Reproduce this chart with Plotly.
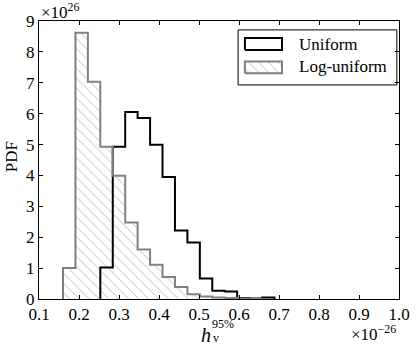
import plotly.graph_objects as go

# histogram values (PDF, in units of 1e26)
bin_width = 0.0311
log_start = 0.160
loguniform = [1.0, 8.62, 7.03, 4.93, 3.99, 2.48, 1.60, 1.11, 0.71, 0.39, 0.15, 0.08, 0.05, 0.03, 0.02, 0.01]
uni_start = 0.2533
uniform = [1.02, 4.93, 6.05, 5.86, 4.99, 3.95, 2.22, 1.83, 0.66, 0.27, 0.24, 0.03, 0.02, 0.05]

xticks = [0.1, 0.2, 0.3, 0.4, 0.5, 0.6, 0.7, 0.8, 0.9, 1.0]
yticks = [0, 1, 2, 3, 4, 5, 6, 7, 8, 9]

FONT = "Liberation Serif, serif"
GREY = "#808080"
HATCH = "#b4b4b4"


def step_xy(start, vals):
    edges = [start + i * bin_width for i in range(len(vals) + 1)]
    xs = [edges[0]] + edges[:-1] + [edges[-1]]
    ys = [0] + list(vals) + [0]
    return xs, ys


fig = go.Figure()

ux, uy = step_xy(uni_start, uniform)
fig.add_trace(go.Scatter(x=ux, y=uy, mode="lines", line=dict(color="black", width=2, shape="hv"),
                         hoverinfo="skip", showlegend=False))

centers = [log_start + (i + 0.5) * bin_width for i in range(len(loguniform))]
fig.add_trace(go.Bar(x=centers, y=loguniform, width=bin_width,
                     marker=dict(color="rgba(0,0,0,0)", line_width=0,
                                 pattern=dict(shape="\\", fgcolor=HATCH, bgcolor="rgba(0,0,0,0)",
                                              size=7, solidity=0.12, fillmode="replace")),
                     hoverinfo="skip", showlegend=False))

lx, ly = step_xy(log_start, loguniform)
fig.add_trace(go.Scatter(x=lx, y=ly, mode="lines", line=dict(color=GREY, width=2, shape="hv"),
                         hoverinfo="skip", showlegend=False))

# legend drawn by hand on an overlay axis spanning the plot area (0..1)
def rect(x0, x1, y0, y1):
    return [x0, x1, x1, x0, x0], [y0, y0, y1, y1, y0]

bx, by = rect(0.553, 0.994, 0.770, 0.968)
fig.add_trace(go.Scatter(x=bx, y=by, xaxis="x2", yaxis="y2", mode="lines", fill="toself",
                         fillcolor="white", line=dict(color="black", width=1),
                         hoverinfo="skip", showlegend=False))
kx, ky = rect(0.572, 0.675, 0.896, 0.939)
fig.add_trace(go.Scatter(x=kx, y=ky, xaxis="x2", yaxis="y2", mode="lines", fill="toself",
                         fillcolor="white", line=dict(color="black", width=2),
                         hoverinfo="skip", showlegend=False))
kx, ky = rect(0.572, 0.675, 0.812, 0.854)
fig.add_trace(go.Scatter(x=kx, y=ky, xaxis="x2", yaxis="y2", mode="lines", fill="toself",
                         fillpattern=dict(shape="\\", fgcolor=HATCH, bgcolor="white",
                                          size=7, solidity=0.12, fillmode="replace"),
                         line=dict(color=GREY, width=2),
                         hoverinfo="skip", showlegend=False))

annots = [
    dict(text="Uniform", x=0.717, y=0.917, xanchor="left", yanchor="middle", font_size=17),
    dict(text="Log-uniform", x=0.717, y=0.835, xanchor="left", yanchor="middle", font_size=17),
    dict(text="×10<sup>26</sup>", x=0.0, y=0.989, xanchor="left", yanchor="bottom", font_size=17),
    dict(text="×10<sup>−26</sup>", x=0.997, y=-0.075, xanchor="right", yanchor="top", font_size=17),
    dict(text="<i>h</i>", x=0.464, y=-0.129, xanchor="center", yanchor="middle", font_size=20),
    dict(text="95%", x=0.511, y=-0.09, xanchor="center", yanchor="middle", font_size=12),
    dict(text="v", x=0.4917, y=-0.142, xanchor="center", yanchor="middle", font_size=12),
    dict(text="PDF", x=-0.074, y=0.511, xanchor="center", yanchor="middle", font_size=17, textangle=-90),
]
for a in annots:
    fig.add_annotation(xref="paper", yref="paper", showarrow=False, font_family=FONT,
                       font_color="black", **a)

axis_common = dict(showline=True, linecolor="black", linewidth=1, mirror="ticks", ticks="inside",
                   ticklen=4, tickcolor="black", showgrid=False, zeroline=False, automargin=False,
                   tickfont=dict(family=FONT, size=17, color="black"))

fig.update_layout(
    width=416, height=352,
    margin=dict(l=39, r=17, t=21, b=53),
    paper_bgcolor="white", plot_bgcolor="white",
    font=dict(family=FONT, color="black"),
    barmode="overlay",
    xaxis=dict(range=[0.1, 1.0], tickvals=xticks, ticktext=["%.1f" % v for v in xticks], **axis_common),
    yaxis=dict(range=[0, 9], tickvals=yticks, ticktext=[str(v) for v in yticks], **axis_common),
    xaxis2=dict(overlaying="x", range=[0, 1], visible=False, fixedrange=True),
    yaxis2=dict(overlaying="y", range=[0, 1], visible=False, fixedrange=True),
)

# drop the default 8px body margin so the figure sits at the page corner
fig.write_html("out.html", config={"displayModeBar": False},
               post_script="document.body.style.margin='0';")
